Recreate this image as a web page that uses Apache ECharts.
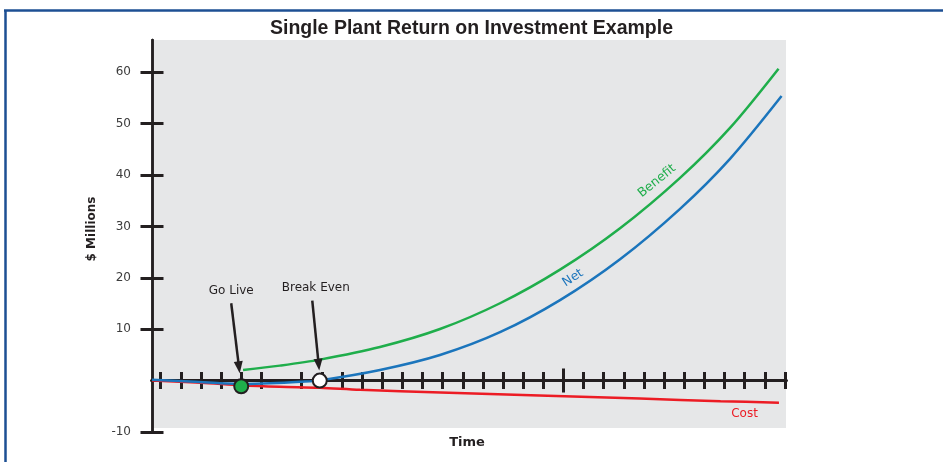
<!DOCTYPE html>
<html><head><meta charset="utf-8">
<script src="https://cdn.jsdelivr.net/npm/echarts@6/dist/echarts.min.js"></script>
<style>html,body{margin:0;padding:0;background:#fff}#c{width:943px;height:462px}</style>
</head><body><div id="c"></div>
<script>
// ---- data (time in tick units, values in $ millions) ----
const benefitT = [4.09, 5.92, 7.91, 10.89, 13.87, 16.85, 19.83, 22.81, 25.79, 28.27, 30.68];
const benefitV = [2.06, 2.92, 4.09, 6.54, 10.04, 15.06, 21.60, 29.66, 39.47, 49.20, 60.72];
const netT = [-0.43, 1.45, 2.94, 4.19, 5.43, 6.92, 7.91, 10.89, 13.87, 16.85, 19.83, 22.81, 25.79, 28.27, 30.83];
const netV = [0.16, -0.18, -0.51, -0.66, -0.53, -0.23, 0.05, 2.06, 4.98, 9.42, 15.67, 23.63, 33.44, 43.17, 55.39];
const costT = [-0.43, 2.0, 4.0, 5.9, 7.9, 9.9, 13.9, 18.8, 23.8, 27.8, 30.7];
const costV = [0, -0.4, -0.9, -1.2, -1.4, -1.8, -2.3, -2.9, -3.5, -4.0, -4.3];
const milestoneNames = ['Go Live', 'Break Even'];
const milestoneT = [4.0, 7.9];
const milestoneV = [-1.1, 0];
const yTickValues = [-10, 10, 20, 30, 40, 50, 60];
const xTickValues = [0, 1, 2, 3, 4, 5, 7, 8, 9, 10, 11, 12, 13, 14, 15, 16, 17, 18, 19, 20, 21, 22, 23, 24, 25, 26, 27, 28, 29, 30, 31];
const xMajorTicks = [20];
const seriesNames = ['Benefit', 'Net', 'Cost'];

// ---- styles ----
const INK = '#231f20';
const GREEN = '#1fae4b', BLUE = '#1b75bc', RED = '#ec1c24';
const milestoneFill = [GREEN, '#ffffff'];
const FONT = 'DejaVu Sans';

const chart = echarts.init(document.getElementById('c'), null, {renderer: 'canvas'});
const pairs = (ts, vs) => ts.map((t, i) => [t, vs[i]]);

function xAx(ticks, len, inside) {
  return {
    type: 'value', gridIndex: 0, min: -0.43, max: 31.05, position: 'bottom',
    splitLine: {show: false}, axisLabel: {show: false},
    axisLine: {show: true, onZero: true, onZeroAxisIndex: 0, lineStyle: {color: INK, width: 3}},
    axisTick: {show: true, customValues: ticks, length: len, inside: inside, lineStyle: {color: INK, width: 3}}
  };
}
function yAx(inside, labels) {
  return {
    type: 'value', gridIndex: 0, min: -10, max: 66.3, position: 'left',
    splitLine: {show: false},
    axisLine: {show: true, onZero: false, lineStyle: {color: INK, width: 2.5}},
    axisTick: {show: true, customValues: yTickValues, length: 11.5, inside: inside, lineStyle: {color: INK, width: 3}},
    axisLabel: labels ? {show: true, customValues: yTickValues, margin: 21, fontFamily: FONT, fontSize: 12, color: '#3c3c3c'} : {show: false}
  };
}

chart.setOption({
  animation: false,
  backgroundColor: '#ffffff',
  title: {
    text: 'Single Plant Return on Investment Example', left: 'center', top: 19, padding: 0,
    textStyle: {fontFamily: 'Liberation Sans', fontSize: 19.5, fontWeight: 'bold', color: INK}
  },
  grid: {left: 152, right: 157, top: 40, bottom: 30, containLabel: false},
  xAxis: [xAx(xTickValues, 8.5, false), xAx(xTickValues, 8.5, true), xAx(xMajorTicks, 12, false), xAx(xMajorTicks, 12, true)],
  yAxis: [yAx(false, true), yAx(true, false)],
  series: [
    {name: seriesNames[1], type: 'line', data: pairs(netT, netV), smooth: 0.3, showSymbol: false, clip: false, z: 3,
     lineStyle: {color: BLUE, width: 2.5}},
    {name: seriesNames[2], type: 'line', data: pairs(costT, costV), smooth: 0.3, showSymbol: false, clip: false, z: 2,
     lineStyle: {color: RED, width: 2.5}},
    {name: seriesNames[0], type: 'line', data: pairs(benefitT, benefitV), smooth: 0.3, showSymbol: false, clip: false, z: 3,
     lineStyle: {color: GREEN, width: 2.5}},
    {name: 'Milestones', type: 'scatter', z: 6, symbolSize: 14,
     data: milestoneT.map((t, i) => ({name: milestoneNames[i], value: [t, milestoneV[i]],
       itemStyle: {color: milestoneFill[i], borderColor: INK, borderWidth: 2, opacity: 1}}))}
  ]
});

// ---- annotations ----
const arrowGeom = [
  {tail: [-10, -83], tip: [-1.5, -13], label: [-10, -95]},
  {tail: [-7.5, -80], tip: [-0.5, -10], label: [-4, -93]}
];
const gfx = [
  {type: 'rect', z: -100, silent: true, shape: {x: 153, y: 40, width: 633, height: 388}, style: {fill: '#e6e7e8'}},
  {type: 'line', z: 50, silent: true, shape: {x1: 4, y1: 10.5, x2: 943, y2: 10.5}, style: {stroke: '#1d4f93', lineWidth: 2.5}},
  {type: 'line', z: 50, silent: true, shape: {x1: 5.5, y1: 10, x2: 5.5, y2: 462}, style: {stroke: '#1d4f93', lineWidth: 2.5}},
  {type: 'text', z: 50, x: 467, y: 443, style: {text: 'Time', fontFamily: FONT, fontSize: 13, fontWeight: 'bold', fill: INK, align: 'center', verticalAlign: 'middle'}},
  {type: 'text', z: 50, x: 92, y: 229, rotation: Math.PI / 2, style: {text: '$ Millions', fontFamily: FONT, fontSize: 12, fontWeight: 'bold', fill: INK, align: 'center', verticalAlign: 'middle'}},
  {type: 'text', z: 50, x: 657, y: 181, rotation: 0.68, style: {text: seriesNames[0], fontFamily: FONT, fontSize: 12.5, fill: GREEN, align: 'center', verticalAlign: 'middle'}},
  {type: 'text', z: 50, x: 573, y: 278, rotation: 0.58, style: {text: seriesNames[1], fontFamily: FONT, fontSize: 12.5, fill: BLUE, align: 'center', verticalAlign: 'middle'}},
  {type: 'text', z: 50, x: 744.5, y: 414, style: {text: seriesNames[2], fontFamily: FONT, fontSize: 12, fill: RED, align: 'center', verticalAlign: 'middle'}}
];
milestoneT.forEach((t, i) => {
  const p = chart.convertToPixel({gridIndex: 0}, [t, milestoneV[i]]);
  const g = arrowGeom[i];
  const x1 = p[0] + g.tail[0], y1 = p[1] + g.tail[1];
  const x2 = p[0] + g.tip[0], y2 = p[1] + g.tip[1];
  const dx = x2 - x1, dy = y2 - y1, L = Math.hypot(dx, dy);
  const ux = dx / L, uy = dy / L, hl = 12, hw = 4.5;
  const bx = x2 - ux * hl, by = y2 - uy * hl;
  gfx.push({type: 'line', z: 40, silent: true, shape: {x1: x1, y1: y1, x2: bx + ux, y2: by + uy}, style: {stroke: INK, lineWidth: 2.5}});
  gfx.push({type: 'polygon', z: 40, silent: true, shape: {points: [[x2, y2], [bx - uy * hw, by + ux * hw], [bx + uy * hw, by - ux * hw]]}, style: {fill: INK}});
  gfx.push({type: 'text', z: 40, x: p[0] + g.label[0], y: p[1] + g.label[1], style: {text: milestoneNames[i], fontFamily: FONT, fontSize: 12, fill: INK, align: 'center', verticalAlign: 'middle'}});
});
chart.setOption({graphic: gfx});
</script>
</body></html>
